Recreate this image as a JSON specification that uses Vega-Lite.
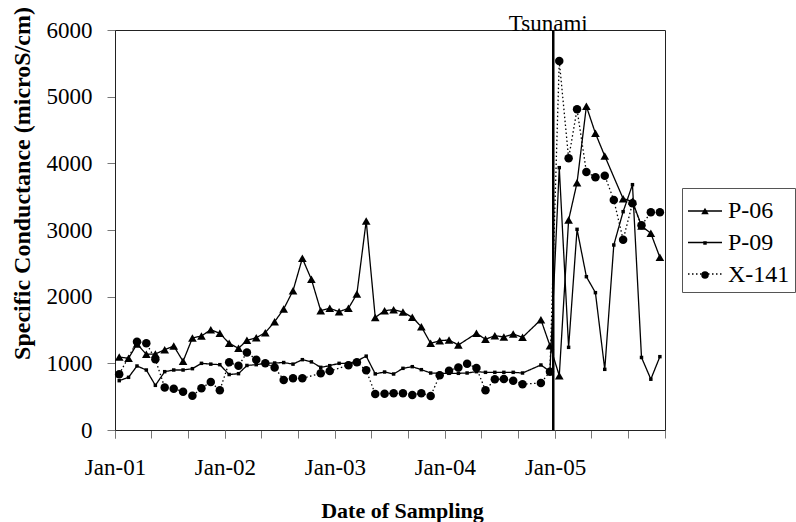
{
  "$schema": "https://vega.github.io/schema/vega-lite/v6.json",
  "width": 550,
  "height": 400,
  "autosize": {"type": "none"},
  "padding": {"left": 115, "top": 30, "right": 131, "bottom": 92},
  "background": "white",
  "config": {
    "view": {"stroke": "#222222", "strokeWidth": 1},
    "font": "Liberation Serif",
    "axis": {"labelFont": "Liberation Serif", "titleFont": "Liberation Serif", "labelColor": "black", "titleColor": "black", "domainColor": "#222222", "tickColor": "#777777", "grid": false, "labelOverlap": false}
  },
  "datasets": {
    "readings": [
      {"series":"P-06","date":"2001-01-15","value":1095},{"series":"P-06","date":"2001-02-15","value":1075},{"series":"P-06","date":"2001-03-15","value":1290},{"series":"P-06","date":"2001-04-15","value":1135},{"series":"P-06","date":"2001-05-15","value":1140},{"series":"P-06","date":"2001-06-15","value":1205},{"series":"P-06","date":"2001-07-15","value":1260},{"series":"P-06","date":"2001-08-15","value":1030},{"series":"P-06","date":"2001-09-15","value":1380},{"series":"P-06","date":"2001-10-15","value":1410},{"series":"P-06","date":"2001-11-15","value":1505},{"series":"P-06","date":"2001-12-15","value":1450},
      {"series":"P-06","date":"2002-01-15","value":1300},{"series":"P-06","date":"2002-02-15","value":1225},{"series":"P-06","date":"2002-03-15","value":1345},{"series":"P-06","date":"2002-04-15","value":1385},{"series":"P-06","date":"2002-05-15","value":1460},{"series":"P-06","date":"2002-06-15","value":1625},{"series":"P-06","date":"2002-07-15","value":1815},{"series":"P-06","date":"2002-08-15","value":2090},{"series":"P-06","date":"2002-09-15","value":2575},{"series":"P-06","date":"2002-10-15","value":2260},{"series":"P-06","date":"2002-11-15","value":1790},{"series":"P-06","date":"2002-12-15","value":1825},
      {"series":"P-06","date":"2003-01-15","value":1775},{"series":"P-06","date":"2003-02-15","value":1825},{"series":"P-06","date":"2003-03-15","value":2040},{"series":"P-06","date":"2003-04-15","value":3135},{"series":"P-06","date":"2003-05-15","value":1688},{"series":"P-06","date":"2003-06-15","value":1790},{"series":"P-06","date":"2003-07-15","value":1805},{"series":"P-06","date":"2003-08-15","value":1770},{"series":"P-06","date":"2003-09-15","value":1690},{"series":"P-06","date":"2003-10-15","value":1550},{"series":"P-06","date":"2003-11-15","value":1300},{"series":"P-06","date":"2003-12-15","value":1340},
      {"series":"P-06","date":"2004-01-15","value":1350},{"series":"P-06","date":"2004-02-15","value":1275},{"series":"P-06","date":"2004-04-15","value":1450},{"series":"P-06","date":"2004-05-15","value":1360},{"series":"P-06","date":"2004-06-15","value":1415},{"series":"P-06","date":"2004-07-15","value":1395},{"series":"P-06","date":"2004-08-15","value":1440},{"series":"P-06","date":"2004-09-15","value":1390},{"series":"P-06","date":"2004-11-15","value":1655},{"series":"P-06","date":"2004-12-15","value":1265},
      {"series":"P-06","date":"2005-01-15","value":815},{"series":"P-06","date":"2005-02-15","value":3150},{"series":"P-06","date":"2005-03-15","value":3710},{"series":"P-06","date":"2005-04-15","value":4855},{"series":"P-06","date":"2005-05-15","value":4450},{"series":"P-06","date":"2005-06-15","value":4110},{"series":"P-06","date":"2005-08-15","value":3470},{"series":"P-06","date":"2005-09-15","value":3430},{"series":"P-06","date":"2005-10-15","value":3060},{"series":"P-06","date":"2005-11-15","value":2950},{"series":"P-06","date":"2005-12-15","value":2590},

      {"series":"P-09","date":"2001-01-15","value":740},{"series":"P-09","date":"2001-02-15","value":790},{"series":"P-09","date":"2001-03-15","value":960},{"series":"P-09","date":"2001-04-15","value":900},{"series":"P-09","date":"2001-05-15","value":670},{"series":"P-09","date":"2001-06-15","value":875},{"series":"P-09","date":"2001-07-15","value":900},{"series":"P-09","date":"2001-08-15","value":900},{"series":"P-09","date":"2001-09-15","value":920},{"series":"P-09","date":"2001-10-15","value":1000},{"series":"P-09","date":"2001-11-15","value":988},{"series":"P-09","date":"2001-12-15","value":980},
      {"series":"P-09","date":"2002-01-15","value":832},{"series":"P-09","date":"2002-02-15","value":845},{"series":"P-09","date":"2002-03-15","value":968},{"series":"P-09","date":"2002-04-15","value":980},{"series":"P-09","date":"2002-05-15","value":1000},{"series":"P-09","date":"2002-06-15","value":1005},{"series":"P-09","date":"2002-07-15","value":1012},{"series":"P-09","date":"2002-08-15","value":988},{"series":"P-09","date":"2002-09-15","value":1055},{"series":"P-09","date":"2002-10-15","value":1022},{"series":"P-09","date":"2002-11-15","value":940},{"series":"P-09","date":"2002-12-15","value":965},
      {"series":"P-09","date":"2003-01-15","value":1000},{"series":"P-09","date":"2003-02-15","value":1000},{"series":"P-09","date":"2003-03-15","value":1035},{"series":"P-09","date":"2003-04-15","value":1108},{"series":"P-09","date":"2003-05-15","value":842},{"series":"P-09","date":"2003-06-15","value":870},{"series":"P-09","date":"2003-07-15","value":840},{"series":"P-09","date":"2003-08-15","value":925},{"series":"P-09","date":"2003-09-15","value":950},{"series":"P-09","date":"2003-10-15","value":905},{"series":"P-09","date":"2003-11-15","value":855},{"series":"P-09","date":"2003-12-15","value":850},
      {"series":"P-09","date":"2004-01-15","value":850},{"series":"P-09","date":"2004-02-15","value":850},{"series":"P-09","date":"2004-03-15","value":855},{"series":"P-09","date":"2004-04-15","value":875},{"series":"P-09","date":"2004-05-15","value":865},{"series":"P-09","date":"2004-06-15","value":865},{"series":"P-09","date":"2004-07-15","value":865},{"series":"P-09","date":"2004-08-15","value":865},{"series":"P-09","date":"2004-09-15","value":855},{"series":"P-09","date":"2004-11-15","value":975},{"series":"P-09","date":"2004-12-15","value":880},
      {"series":"P-09","date":"2005-01-15","value":3935},{"series":"P-09","date":"2005-02-15","value":1240},{"series":"P-09","date":"2005-03-15","value":3010},{"series":"P-09","date":"2005-04-15","value":2300},{"series":"P-09","date":"2005-05-15","value":2060},{"series":"P-09","date":"2005-06-15","value":910},{"series":"P-09","date":"2005-07-15","value":2775},{"series":"P-09","date":"2005-08-15","value":3275},{"series":"P-09","date":"2005-09-15","value":3680},{"series":"P-09","date":"2005-10-15","value":1088},{"series":"P-09","date":"2005-11-15","value":762},{"series":"P-09","date":"2005-12-15","value":1100},

      {"series":"X-141","date":"2001-01-15","value":838},{"series":"X-141","date":"2001-03-15","value":1325},{"series":"X-141","date":"2001-04-15","value":1300},{"series":"X-141","date":"2001-05-15","value":1060},{"series":"X-141","date":"2001-06-15","value":638},{"series":"X-141","date":"2001-07-15","value":620},{"series":"X-141","date":"2001-08-15","value":575},{"series":"X-141","date":"2001-09-15","value":515},{"series":"X-141","date":"2001-10-15","value":625},{"series":"X-141","date":"2001-11-15","value":720},{"series":"X-141","date":"2001-12-15","value":595},
      {"series":"X-141","date":"2002-01-15","value":1015},{"series":"X-141","date":"2002-02-15","value":962},{"series":"X-141","date":"2002-03-15","value":1162},{"series":"X-141","date":"2002-04-15","value":1055},{"series":"X-141","date":"2002-05-15","value":1000},{"series":"X-141","date":"2002-06-15","value":938},{"series":"X-141","date":"2002-07-15","value":750},{"series":"X-141","date":"2002-08-15","value":775},{"series":"X-141","date":"2002-09-15","value":775},{"series":"X-141","date":"2002-11-15","value":850},{"series":"X-141","date":"2002-12-15","value":885},
      {"series":"X-141","date":"2003-02-15","value":970},{"series":"X-141","date":"2003-03-15","value":1015},{"series":"X-141","date":"2003-04-15","value":895},{"series":"X-141","date":"2003-05-15","value":540},{"series":"X-141","date":"2003-06-15","value":545},{"series":"X-141","date":"2003-07-15","value":550},{"series":"X-141","date":"2003-08-15","value":550},{"series":"X-141","date":"2003-09-15","value":525},{"series":"X-141","date":"2003-10-15","value":550},{"series":"X-141","date":"2003-11-15","value":510},{"series":"X-141","date":"2003-12-15","value":820},
      {"series":"X-141","date":"2004-01-15","value":890},{"series":"X-141","date":"2004-02-15","value":938},{"series":"X-141","date":"2004-03-15","value":995},{"series":"X-141","date":"2004-04-15","value":930},{"series":"X-141","date":"2004-05-15","value":595},{"series":"X-141","date":"2004-06-15","value":762},{"series":"X-141","date":"2004-07-15","value":765},{"series":"X-141","date":"2004-08-15","value":740},{"series":"X-141","date":"2004-09-15","value":688},{"series":"X-141","date":"2004-11-15","value":705},{"series":"X-141","date":"2004-12-15","value":875},
      {"series":"X-141","date":"2005-01-15","value":5535},{"series":"X-141","date":"2005-02-15","value":4075},{"series":"X-141","date":"2005-03-15","value":4810},{"series":"X-141","date":"2005-04-15","value":3870},{"series":"X-141","date":"2005-05-15","value":3790},{"series":"X-141","date":"2005-06-15","value":3815},{"series":"X-141","date":"2005-07-15","value":3450},{"series":"X-141","date":"2005-08-15","value":2855},{"series":"X-141","date":"2005-09-15","value":3400},{"series":"X-141","date":"2005-10-15","value":3070},{"series":"X-141","date":"2005-11-15","value":3265},{"series":"X-141","date":"2005-12-15","value":3265}
    ],
    "events": [{"event": "Tsunami", "date": "2004-12-26"}]
  },
  "layer": [
    {
      "data": {"name": "readings"},
      "mark": {"type": "line", "color": "black", "strokeWidth": 1.3},
      "encoding": {
        "x": {
          "field": "date", "type": "temporal",
          "scale": {"type": "utc", "domain": [{"year": 2001, "month": 1, "date": 1, "utc": true}, {"year": 2006, "month": 1, "date": 1, "utc": true}]},
          "axis": {"orient": "bottom", "title": "Date of Sampling", "titleFontSize": 22, "titleFontWeight": "bold", "titleX": 287, "titleY": 80, "titleBaseline": "middle", "labels": false, "tickSize": 8,
            "values": [{"year": 2001, "month": 1, "date": 1, "utc": true}, {"year": 2001, "month": 5, "date": 1, "utc": true}, {"year": 2001, "month": 9, "date": 1, "utc": true}, {"year": 2002, "month": 1, "date": 1, "utc": true}, {"year": 2002, "month": 5, "date": 1, "utc": true}, {"year": 2002, "month": 9, "date": 1, "utc": true}, {"year": 2003, "month": 1, "date": 1, "utc": true}, {"year": 2003, "month": 5, "date": 1, "utc": true}, {"year": 2003, "month": 9, "date": 1, "utc": true}, {"year": 2004, "month": 1, "date": 1, "utc": true}, {"year": 2004, "month": 5, "date": 1, "utc": true}, {"year": 2004, "month": 9, "date": 1, "utc": true}, {"year": 2005, "month": 1, "date": 1, "utc": true}, {"year": 2005, "month": 5, "date": 1, "utc": true}, {"year": 2005, "month": 9, "date": 1, "utc": true}, {"year": 2006, "month": 1, "date": 1, "utc": true}]}
        },
        "y": {
          "field": "value", "type": "quantitative",
          "scale": {"domain": [0, 6000], "nice": false},
          "axis": {"title": "Specific Conductance (microS/cm)", "titleFontSize": 24, "titleFontWeight": "bold", "titleX": -93, "titleY": 153, "titleBaseline": "middle", "values": [0, 1000, 2000, 3000, 4000, 5000, 6000], "format": "d", "labelFontSize": 23, "labelPadding": 15, "tickSize": 8, "labelFlush": false}
        },
        "detail": {"field": "series"},
        "strokeDash": {
          "field": "series",
          "scale": {"domain": ["P-06", "P-09", "X-141"], "range": [[1, 0], [1, 0], [1.5, 2.5]]},
          "legend": {"title": null, "orient": "none", "legendX": 567, "legendY": 158, "direction": "vertical", "symbolType": "stroke", "symbolSize": 1156, "symbolStrokeWidth": 1.3, "symbolStrokeColor": "black", "labelFont": "Liberation Serif", "labelFontSize": 24, "labelOffset": 5, "labelExpr": "''", "padding": 5, "rowPadding": 1.5}
        }
      }
    },
    {
      "data": {"name": "readings"},
      "transform": [{"filter": "datum.series == 'P-06'"}],
      "mark": {"type": "point", "shape": "triangle-up", "filled": true, "size": 75, "color": "black", "opacity": 1},
      "encoding": {
        "x": {"field": "date", "type": "temporal",
          "axis": {"orient": "bottom", "title": null, "domain": false, "tickSize": 8, "labelFontSize": 23, "labelPadding": 18, "labelFlush": false, "labelOverlap": false, "labelBound": false,
            "values": [{"year": 2001, "month": 1, "date": 1, "utc": true}, {"year": 2002, "month": 1, "date": 1, "utc": true}, {"year": 2003, "month": 1, "date": 1, "utc": true}, {"year": 2004, "month": 1, "date": 1, "utc": true}, {"year": 2005, "month": 1, "date": 1, "utc": true}],
            "labelExpr": "utcFormat(datum.value, '%b-%y')"}},
        "y": {"field": "value", "type": "quantitative"}
      }
    },
    {
      "data": {"name": "readings"},
      "transform": [{"filter": "datum.series == 'P-09'"}],
      "mark": {"type": "point", "shape": "square", "filled": true, "size": 12, "color": "black", "opacity": 1},
      "encoding": {
        "x": {"field": "date", "type": "temporal", "axis": null},
        "y": {"field": "value", "type": "quantitative"}
      }
    },
    {
      "data": {"name": "readings"},
      "transform": [{"filter": "datum.series == 'X-141'"}],
      "mark": {"type": "point", "shape": "circle", "filled": true, "size": 72, "color": "black", "opacity": 1},
      "encoding": {
        "x": {"field": "date", "type": "temporal", "axis": null},
        "y": {"field": "value", "type": "quantitative"}
      }
    },
    {
      "data": {"name": "events"},
      "mark": {"type": "rule", "color": "black", "strokeWidth": 2.5},
      "encoding": {
        "x": {"field": "date", "type": "temporal", "axis": null}
      }
    },
    {
      "data": {"name": "events"},
      "mark": {"type": "text", "font": "Liberation Serif", "fontSize": 23, "color": "black", "align": "center", "baseline": "alphabetic", "dx": -5, "dy": 1},
      "encoding": {
        "x": {"field": "date", "type": "temporal", "axis": null},
        "y": {"datum": 6000, "type": "quantitative"},
        "text": {"field": "event"}
      }
    },
    {
      "data": {"name": "readings"},
      "mark": {"type": "point", "filled": true, "color": "black", "opacity": 0},
      "encoding": {
        "x": {"field": "date", "type": "temporal", "axis": null},
        "y": {"field": "value", "type": "quantitative"},
        "shape": {
          "field": "series",
          "scale": {"range": ["triangle-up", "square", "circle"]},
          "legend": {
            "title": null, "orient": "none", "legendX": 567, "legendY": 158, "direction": "vertical",
            "symbolSize": 1156, "symbolStrokeWidth": 1.3, "symbolFillColor": "black", "symbolOpacity": 1,
            "labelFont": "Liberation Serif", "labelFontSize": 24, "labelColor": "black", "labelOffset": 5,
            "padding": 5, "rowPadding": 2, "strokeColor": "#555555",
            "encoding": {"symbols": {
              "size": {"value": {"expr": "(datum.value === 'P-09' ? 12 : 56)"}},
              "strokeWidth": {"value": {"expr": "(datum.value === 'P-09' ? 32 : 28)"}},
              "stroke": {"value": null},
              "fill": {"value": "black"},
              "opacity": {"value": 1}
            }}
          }
        }
      }
    }
  ],
  "resolve": {"axis": {"x": "independent"}}
}
